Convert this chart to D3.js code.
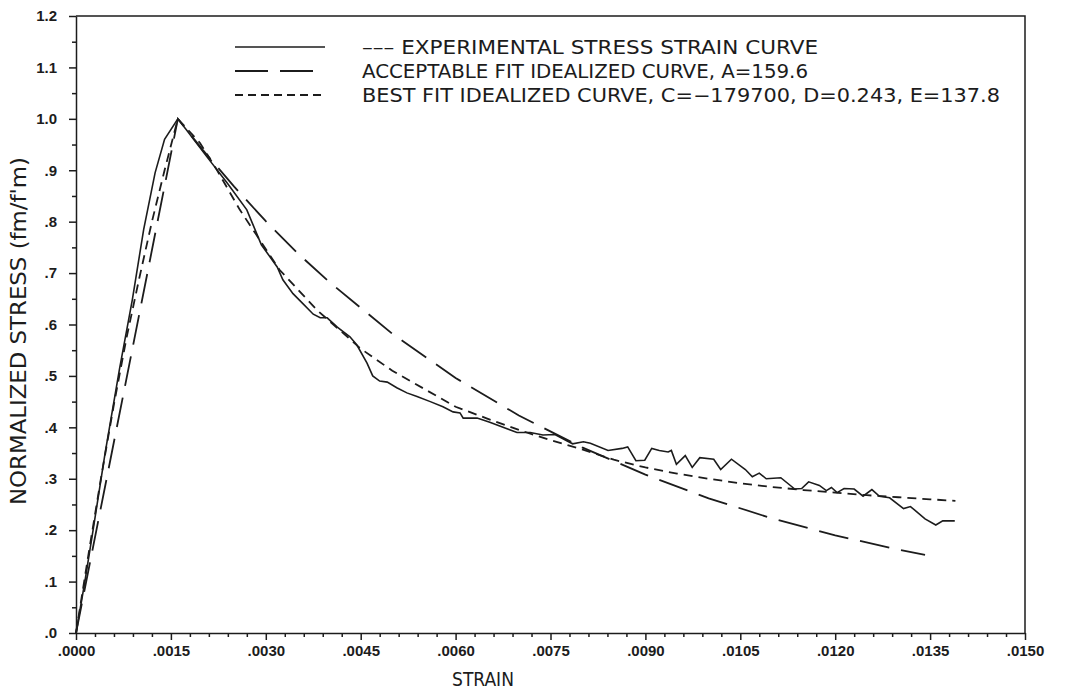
<!DOCTYPE html>
<html>
<head>
<meta charset="utf-8">
<script src="https://cdn.jsdelivr.net/npm/d3@7/dist/d3.min.js"></script>
<style>
body { margin: 0; background: #fff; }
</style>
</head>
<body>
<div id="chart-area"></div>
<script>
// axis ticks
var strainTicks = [0, .0015, .0030, .0045, .0060, .0075, .0090, .0105, .0120, .0135, .0150];
var strainTickLabels = [".0000", ".0015", ".0030", ".0045", ".0060", ".0075", ".0090", ".0105", ".0120", ".0135", ".0150"];
var stressTicks = [0, .1, .2, .3, .4, .5, .6, .7, .8, .9, 1.0, 1.1, 1.2];
var stressTickLabels = [".0", ".1", ".2", ".3", ".4", ".5", ".6", ".7", ".8", ".9", "1.0", "1.1", "1.2"];

// experimental stress strain curve
var expStrain = [0, .00014, .00027, .00046, .00069, .00089, .00107, .00125, .0014, .00161,
    .00175, .00207, .00239, .0027, .00293, .00318, .00327, .00343, .00359, .00375,
    .00386, .00397, .00413, .00433, .00444, .0046, .00469, .0048, .00492, .00507,
    .00523, .00539, .0056, .0058, .00596, .00607, .00612, .00634, .00654, .00675,
    .00697, .00718, .00738, .00757, .00785, .00802, .00813, .00841, .00863, .00872,
    .00885, .00899, .0091, .00922, .00936, .00941, .00949, .00963, .00974, .00986,
    .01008, .01019, .01036, .01058, .01069, .0108, .01091, .01114, .01136, .01147,
    .01158, .01175, .01186, .01194, .01203, .01214, .0123, .01244, .01258, .0127,
    .01286, .01308, .01319, .01342, .01359, .0137, .01389];
var expStress = [0, .10, .20, .35, .515, .648, .785, .895, .96, 1.0,
    .978, .926, .875, .823, .755, .712, .687, .66, .64, .62,
    .613, .613, .595, .576, .56, .525, .50, .49, .488, .477,
    .467, .46, .45, .44, .43, .428, .418, .418, .41, .40,
    .39, .39, .385, .386, .368, .372, .369, .355, .359, .362,
    .335, .336, .359, .355, .352, .355, .328, .345, .322, .341,
    .338, .318, .338, .318, .304, .311, .30, .302, .28, .281,
    .294, .287, .277, .283, .273, .281, .28, .266, .279, .266,
    .263, .242, .246, .222, .21, .218, .218];

// acceptable fit idealized curve, A=159.6
var accStrain = [0, .0005, .001, .00161, .002, .0025, .003, .0035, .004, .005, .006, .007, .008, .009, .010, .011, .012, .013, .01342];
var accStress = [0, .31, .62, 1.0, .94, .868, .801, .739, .683, .582, .496, .423, .361, .308, .262, .223, .19, .162, .152];

// best fit idealized curve, C=-179700, D=0.243, E=137.8
var bestStrain = [0, .0002, .0004, .0006, .0008, .001, .0012, .0014, .00161, .00196, .00223, .00259, .00322, .00381,
    .0045, .005, .0055, .006, .0065, .007, .0075, .008, .0085, .009, .0095, .010, .0105, .011, .0115, .012, .0125, .013, .0135, .0139];
var bestStress = [0, .155, .305, .445, .575, .69, .80, .90, 1.0, .953, .90, .823, .706, .628,
    .553, .51, .475, .44, .417, .395, .375, .357, .337, .322, .31, .30, .291, .284, .278, .273, .268, .264, .26, .257];

var legendLabels = [
    "\u2013\u2013\u2013 EXPERIMENTAL STRESS STRAIN CURVE",
    "ACCEPTABLE FIT IDEALIZED CURVE, A=159.6",
    "BEST FIT IDEALIZED CURVE, C=\u2212179700, D=0.243, E=137.8"
];

var margin = { left: 76, right: 48, top: 16, bottom: 59 };
var width = 1073 - margin.left - margin.right,
    height = 692 - margin.top - margin.bottom;

var ink = "#1c1c1c";
var plotFont = "'DejaVu Sans Condensed', 'Liberation Sans Narrow', 'DejaVu Sans', sans-serif";
var tickFont = "'Liberation Sans', Arial, sans-serif";

var svg = d3.select("#chart-area")
    .append("svg")
        .attr("width", width + margin.left + margin.right)
        .attr("height", height + margin.top + margin.bottom);

var g = svg.append("g")
    .attr("transform", "translate(" + margin.left + ", " + margin.top + ")");

var xScale = d3.scaleLinear()
    .domain([0, .015])
    .range([0, width]);

var yScale = d3.scaleLinear()
    .domain([0, 1.2])
    .range([height, 0]);

// minor ticks
var xMinor = d3.range(1, 50).map(function(i){ return i * .0003; })
    .filter(function(d, i){ return (i + 1) % 5 != 0; });
var yMinor = d3.range(1, 24, 2).map(function(i){ return i * .05; });

g.append("g")
    .attr("class", "x minor")
    .attr("transform", "translate(0, " + height + ")")
    .call(d3.axisBottom(xScale).tickValues(xMinor).tickSize(4).tickFormat(""));

g.append("g")
    .attr("class", "y minor")
    .call(d3.axisLeft(yScale).tickValues(yMinor).tickSize(4).tickFormat(""));

var xAxisCall = d3.axisBottom(xScale)
    .tickValues(strainTicks)
    .tickSizeInner(7)
    .tickSizeOuter(0)
    .tickPadding(5)
    .tickFormat(function(d, i){ return strainTickLabels[i]; });

g.append("g")
    .attr("class", "x axis")
    .attr("transform", "translate(0, " + height + ")")
    .call(xAxisCall);

var yAxisCall = d3.axisLeft(yScale)
    .tickValues(stressTicks)
    .tickSizeInner(7)
    .tickSizeOuter(0)
    .tickPadding(12)
    .tickFormat(function(d, i){ return stressTickLabels[i]; });

g.append("g")
    .attr("class", "y axis")
    .call(yAxisCall);

g.selectAll(".axis text")
    .attr("fill", ink)
    .attr("font-family", tickFont)
    .attr("font-weight", "bold")
    .attr("font-size", "15px");

g.selectAll(".axis path, .axis line, .minor line")
    .attr("stroke", ink)
    .attr("stroke-width", 1.5);
g.selectAll(".minor path").remove();

// top and right frame
g.append("path")
    .attr("d", "M0,0H" + width + "V" + height)
    .attr("fill", "none")
    .attr("stroke", ink)
    .attr("stroke-width", 1.5);

// axis titles
g.append("text")
    .attr("x", 483 - margin.left)
    .attr("y", height + 53)
    .attr("font-family", plotFont)
    .attr("font-size", "19px")
    .attr("text-anchor", "middle")
    .attr("fill", ink)
    .text("STRAIN");

g.append("text")
    .attr("transform", "translate(" + (26 - margin.left) + ", " + (331 - margin.top) + ") rotate(-90)")
    .attr("font-family", plotFont)
    .attr("font-size", "22px")
    .attr("text-anchor", "middle")
    .attr("textLength", 348)
    .attr("lengthAdjust", "spacingAndGlyphs")
    .attr("fill", ink)
    .text("NORMALIZED STRESS (fm/f'm)");

var line = d3.line()
    .x(function(d){ return xScale(d[0]); })
    .y(function(d){ return yScale(d[1]); });

var series = [
    { data: d3.zip(expStrain, expStress), dash: null, w: 1.6 },
    { data: d3.zip(accStrain, accStress), dash: "30,12", w: 1.8 },
    { data: d3.zip(bestStrain, bestStress), dash: "9,6", w: 1.8 }
];

series.forEach(function(s){
    g.append("path")
        .attr("class", "line")
        .attr("d", line(s.data))
        .attr("fill", "none")
        .attr("stroke", ink)
        .attr("stroke-width", s.w)
        .attr("stroke-dasharray", s.dash);
});

// legend
var legendWidths = [456, 446, 638];
var legend = svg.append("g").attr("class", "legend");
series.forEach(function(s, i){
    var yy = 47 + i * 24;
    legend.append("line")
        .attr("x1", 235).attr("x2", i == 1 ? 316 : 325)
        .attr("y1", yy).attr("y2", yy)
        .attr("stroke", ink)
        .attr("stroke-width", s.w)
        .attr("stroke-dasharray", i == 1 ? "33,12" : (i == 2 ? "8,5" : null));
    legend.append("text")
        .attr("x", 362)
        .attr("y", yy + 7)
        .attr("font-family", plotFont)
        .attr("font-size", "19px")
        .attr("textLength", legendWidths[i])
        .attr("lengthAdjust", "spacingAndGlyphs")
        .attr("fill", ink)
        .text(legendLabels[i]);
});
</script>
</body>
</html>
